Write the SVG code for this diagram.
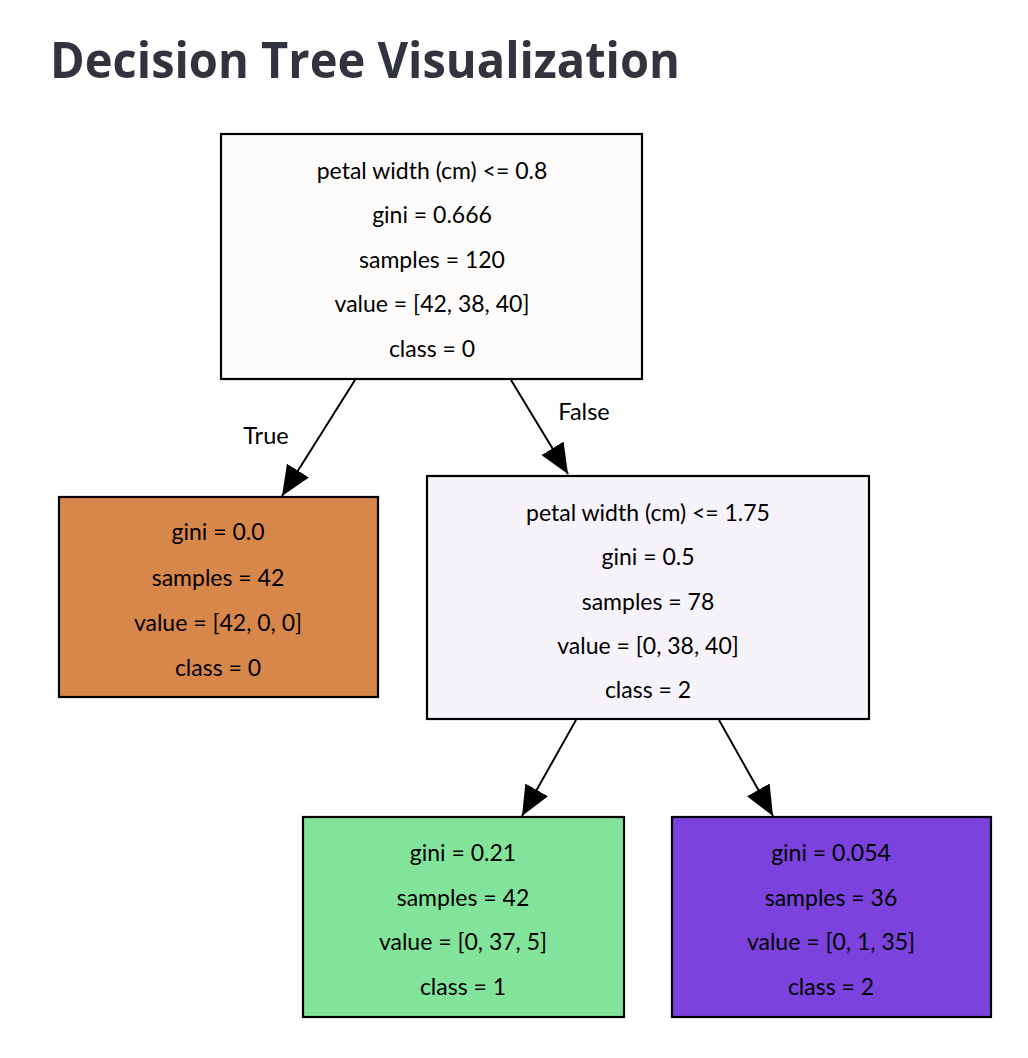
<svg xmlns="http://www.w3.org/2000/svg" width="1028" height="1058" viewBox="0 0 1028 1058">
<style>
.node rect { stroke: #000; stroke-width: 2.2; }
.node text { font-family: Lato, "Liberation Sans", sans-serif; font-size: 23px; fill: #000; text-anchor: middle; }
.edge line { stroke: #000; stroke-width: 2; }
.elabel { font-family: Lato, "Liberation Sans", sans-serif; font-size: 23.5px; fill: #000; text-anchor: middle; }
.title { font-family: "Open Sans", "Liberation Sans", sans-serif; font-weight: 700; font-size: 50px; fill: #31333f; }
</style>
<defs>
<marker id="arrow" markerUnits="userSpaceOnUse" markerWidth="30" markerHeight="26" refX="30" refY="13" orient="auto">
<path d="M0,0 L30,13 L0,26 z" fill="#000"/>
</marker>
</defs>
<rect width="1028" height="1058" fill="#fff"/>
<text class="title" x="50" y="78" textLength="630" lengthAdjust="spacingAndGlyphs">Decision Tree Visualization</text>
<g id="edges" class="edge">
<line x1="355" y1="380" x2="282" y2="496" marker-end="url(#arrow)"/>
<line x1="511" y1="380" x2="568" y2="474" marker-end="url(#arrow)"/>
<line x1="576" y1="720" x2="522" y2="816" marker-end="url(#arrow)"/>
<line x1="719" y1="720" x2="773" y2="816" marker-end="url(#arrow)"/>
<text class="elabel" x="266" y="444">True</text>
<text class="elabel" x="584" y="420">False</text>
</g>
<g id="node0" class="node">
<rect x="221" y="134" width="421" height="245" fill="#fdfcfa"/>
<text x="432" y="179">petal width (cm) &lt;= 0.8</text>
<text x="432" y="223">gini = 0.666</text>
<text x="432" y="268">samples = 120</text>
<text x="432" y="312">value = [42, 38, 40]</text>
<text x="432" y="357">class = 0</text>
</g>
<g id="node1" class="node">
<rect x="59" y="497" width="319" height="200" fill="#d8874b"/>
<text x="218" y="540">gini = 0.0</text>
<text x="218" y="586">samples = 42</text>
<text x="218" y="631">value = [42, 0, 0]</text>
<text x="218" y="676">class = 0</text>
</g>
<g id="node2" class="node">
<rect x="427" y="476" width="442" height="243" fill="#f6f3fb"/>
<text x="648" y="521">petal width (cm) &lt;= 1.75</text>
<text x="648" y="565">gini = 0.5</text>
<text x="648" y="610">samples = 78</text>
<text x="648" y="654">value = [0, 38, 40]</text>
<text x="648" y="698">class = 2</text>
</g>
<g id="node3" class="node">
<rect x="303" y="817" width="321" height="200" fill="#82e49a"/>
<text x="463" y="861">gini = 0.21</text>
<text x="463" y="906">samples = 42</text>
<text x="463" y="950">value = [0, 37, 5]</text>
<text x="463" y="995">class = 1</text>
</g>
<g id="node4" class="node">
<rect x="672" y="817" width="319" height="200" fill="#7c42dd"/>
<text x="831" y="861">gini = 0.054</text>
<text x="831" y="906">samples = 36</text>
<text x="831" y="950">value = [0, 1, 35]</text>
<text x="831" y="995">class = 2</text>
</g>
</svg>
